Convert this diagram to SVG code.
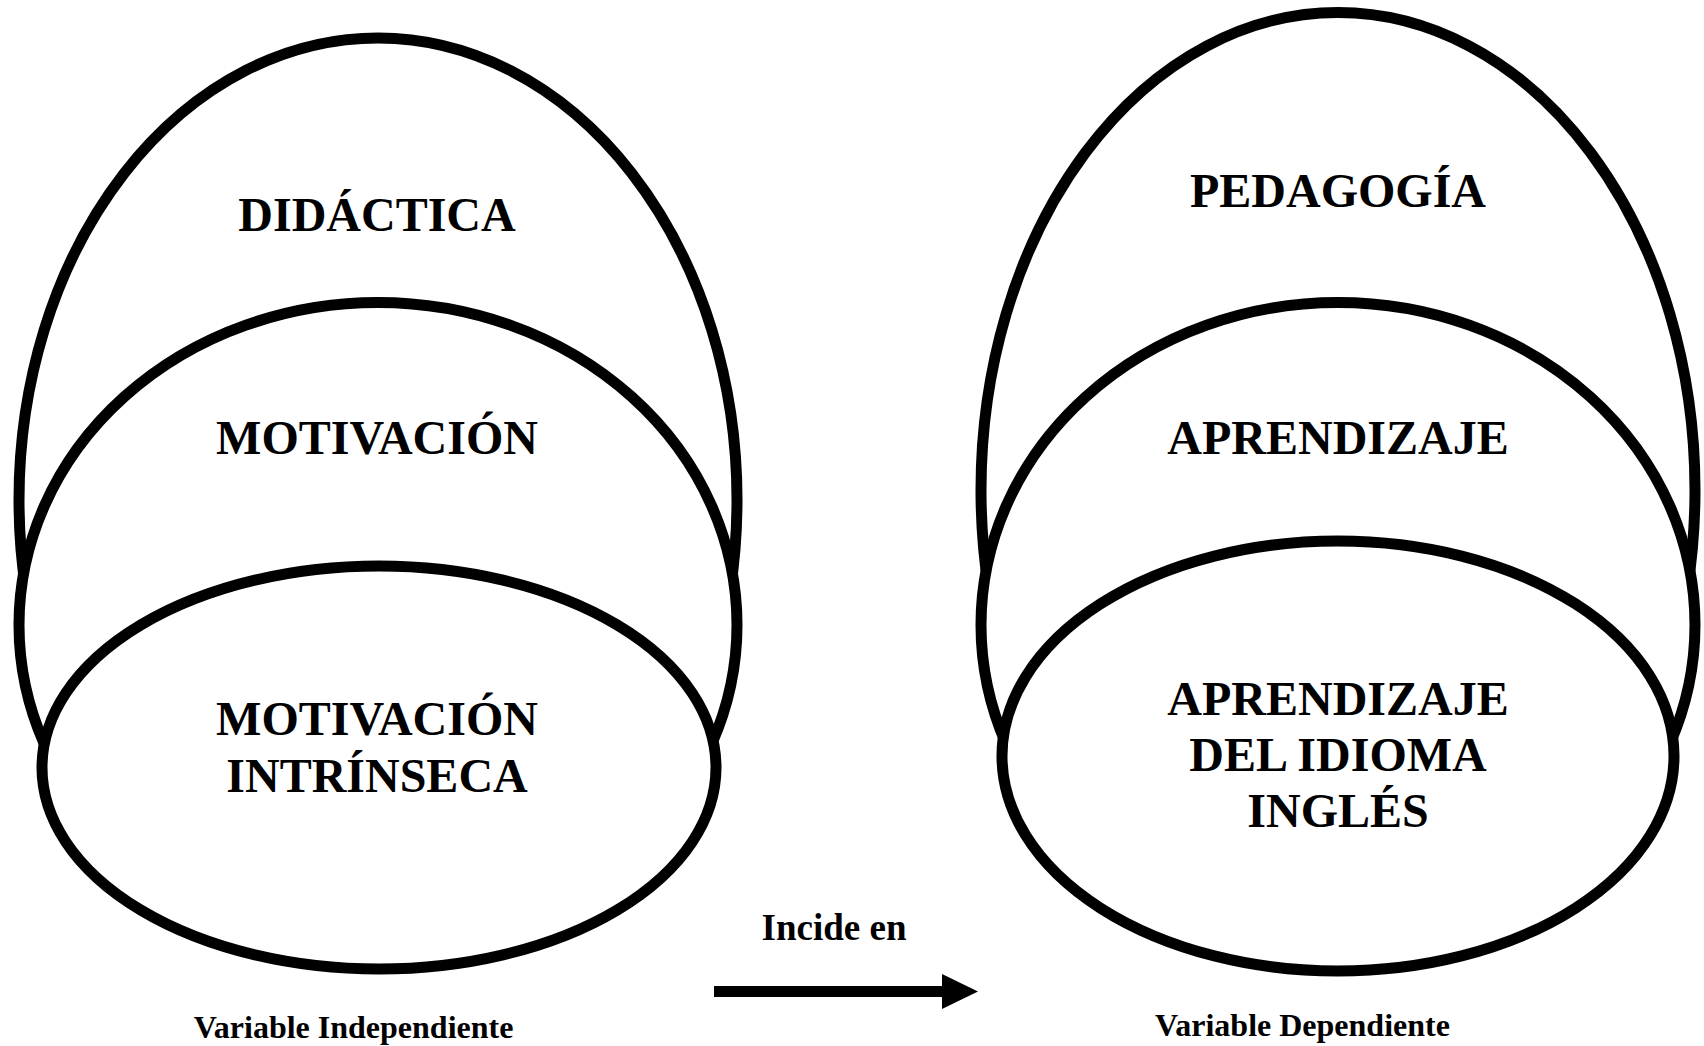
<svg xmlns="http://www.w3.org/2000/svg" width="1704" height="1046" viewBox="0 0 1704 1046">
<style>
.sh{fill:#fff;stroke:#000;stroke-width:11}
.lb{font-family:"Liberation Serif","Times New Roman",serif;font-weight:bold;font-size:48px;text-anchor:middle;fill:#000}
.sm{font-family:"Liberation Serif","Times New Roman",serif;font-weight:bold;font-size:32px;text-anchor:middle;fill:#000}
.md{font-family:"Liberation Serif","Times New Roman",serif;font-weight:bold;font-size:37px;text-anchor:middle;fill:#000}
</style>
<defs>
<marker id="ah" markerUnits="userSpaceOnUse" markerWidth="40" markerHeight="40" refX="1" refY="17.5" orient="auto">
<path d="M0,0 L36,17.5 L0,35 Z" fill="#000"/>
</marker>
</defs>
<rect width="1704" height="1046" fill="#fff"/>
<g id="didactica">
<ellipse class="sh" cx="378" cy="500" rx="359" ry="462"/>
<text class="lb" x="377" y="231">DIDÁCTICA</text>
</g>
<g id="motivacion">
<ellipse class="sh" cx="378" cy="625" rx="359" ry="322.5"/>
<text class="lb" x="377" y="454">MOTIVACIÓN</text>
</g>
<g id="motivacion-intrinseca">
<ellipse class="sh" cx="379" cy="767.5" rx="337" ry="201.5"/>
<text class="lb" x="377" y="735">MOTIVACIÓN</text>
<text class="lb" x="377" y="792">INTRÍNSECA</text>
</g>
<g id="pedagogia">
<ellipse class="sh" cx="1338" cy="490" rx="357" ry="477.5"/>
<text class="lb" x="1338" y="207">PEDAGOGÍA</text>
</g>
<g id="aprendizaje">
<ellipse class="sh" cx="1338" cy="625" rx="357" ry="322.5"/>
<text class="lb" x="1338" y="454">APRENDIZAJE</text>
</g>
<g id="aprendizaje-ingles">
<ellipse class="sh" cx="1338" cy="756" rx="336" ry="215"/>
<text class="lb" x="1338" y="715">APRENDIZAJE</text>
<text class="lb" x="1338" y="771">DEL IDIOMA</text>
<text class="lb" x="1338" y="827">INGLÉS</text>
</g>
<g id="connectors">
<line x1="714" y1="991.5" x2="943" y2="991.5" stroke="#000" stroke-width="11" marker-end="url(#ah)"/>
<text class="md" x="834" y="940">Incide en</text>
</g>
<g id="labels">
<text class="sm" x="353.5" y="1038">Variable Independiente</text>
<text class="sm" x="1302.5" y="1036">Variable Dependiente</text>
</g>
</svg>
